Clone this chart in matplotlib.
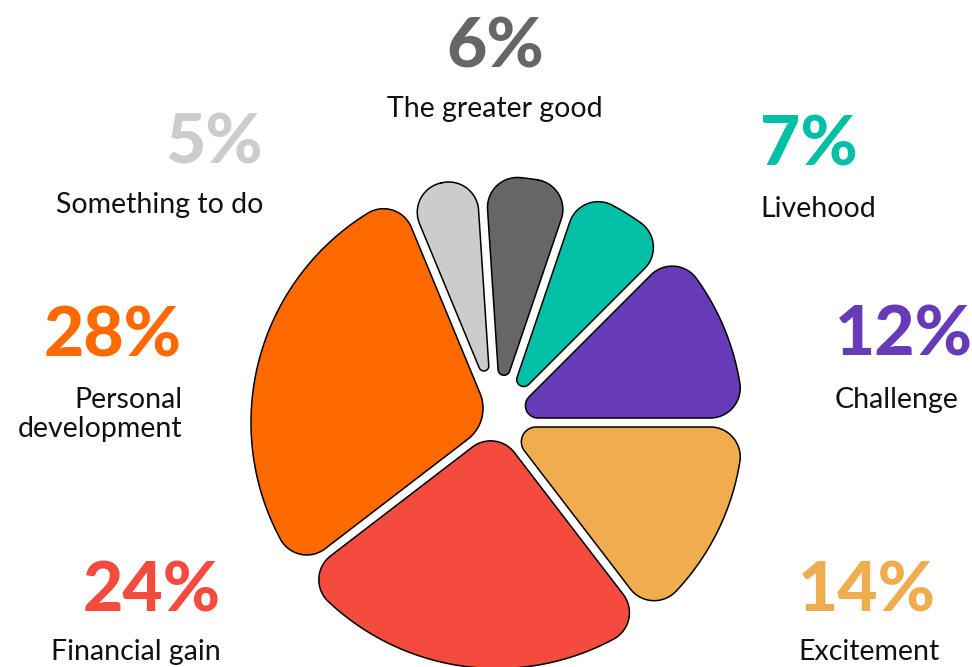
import numpy as np
import matplotlib
matplotlib.use("Agg")
import matplotlib.pyplot as plt
from matplotlib.patches import Polygon

# data, clockwise from the top
labels = ["The greater good", "Livehood", "Challenge", "Excitement",
          "Financial gain", "Personal\ndevelopment", "Something to do"]
shares = [6, 7, 12, 14, 24, 28, 5]
colors = ["#666666", "#03bfa5", "#673ab7", "#efad4f",
          "#f44b3f", "#ff6a00", "#cccccc"]

W, H = 972, 667
CX, CY = 497, 422.5      # pie centre in pixels
R = 246                  # outer radius
GAP = 4.5                # half the gap between slices
R_OUT = 30               # outer corner radius
TIP_K = 30               # tip rounding (tangent length)
START = 93.75            # angle where the first slice starts

# label anchors in pixels: x, baseline of percent, baseline of label, align
label_pos = [
    (495, 67, 117, "center"),
    (760, 165, 217, "left"),
    (835, 355, 408, "left"),
    (798, 612, 660, "left"),
    (221, 611, 660, "right"),
    (182, 357, 408, "right"),
    (263, 163, 213, "right"),
]


def ang(v):
    return np.arctan2(v[1], v[0])


def arc(c, rad, a0, a1, n=40):
    # always counter-clockwise from a0 to a1
    while a1 < a0:
        a1 += 2 * np.pi
    t = np.linspace(a0, a1, n)
    return np.column_stack([c[0] + rad * np.cos(t), c[1] + rad * np.sin(t)])


def slice_outline(t1, t2):
    """rounded slice between angles t1 < t2 (radians), gaps kept parallel."""
    h = (t2 - t1) / 2
    m = (t1 + t2) / 2
    u1 = np.array([np.cos(t1), np.sin(t1)])
    u2 = np.array([np.cos(t2), np.sin(t2)])
    n1 = np.array([np.cos(t1 + np.pi / 2), np.sin(t1 + np.pi / 2)])
    n2 = np.array([np.cos(t2 - np.pi / 2), np.sin(t2 - np.pi / 2)])

    ri = TIP_K * np.tan(h)
    ct = np.array([np.cos(m), np.sin(m)]) * (GAP + ri) / np.sin(h)

    a = np.sqrt((R - R_OUT) ** 2 - (GAP + R_OUT) ** 2)
    c1 = a * u1 + (GAP + R_OUT) * n1
    c2 = a * u2 + (GAP + R_OUT) * n2

    pts = [
        arc(c1, R_OUT, ang(-n1), ang(c1)),
        arc((0, 0), R, ang(c1), ang(c2), 150),
        arc(c2, R_OUT, ang(c2), ang(-n2)),
        arc(ct, ri, ang(-n2), ang(-n1)),
    ]
    return np.vstack(pts)


plt.rcParams["font.family"] = ["Lato", "DejaVu Sans"]

fig = plt.figure(figsize=(W / 100, H / 100), dpi=100)
ax = fig.add_axes([0, 0, 1, 1])
ax.set_xlim(-CX, W - CX)
ax.set_ylim(-(H - CY), CY)
ax.set_aspect("equal")
ax.axis("off")

total = sum(shares)
bounds = np.radians(START - np.concatenate([[0], np.cumsum(shares)]) / total * 360)

for i, col in enumerate(colors):
    t2, t1 = bounds[i], bounds[i + 1]
    ax.add_patch(Polygon(slice_outline(t1, t2), closed=True, facecolor=col,
                         edgecolor="black", linewidth=1.1, joinstyle="round"))

for lab, val, col, (x, yp, yl, ha) in zip(labels, shares, colors, label_pos):
    fig.text(x / W, 1 - yp / H, f"{val}%", color=col, fontsize=50,
             fontweight="black", ha=ha, va="baseline")
    for k, line in enumerate(lab.split("\n")):
        fig.text(x / W, 1 - (yl + k * 28.7) / H, line, color="#111111",
                 fontsize=20.5, ha=ha, va="baseline")

plt.savefig("out.png", dpi=100)
plt.close()
